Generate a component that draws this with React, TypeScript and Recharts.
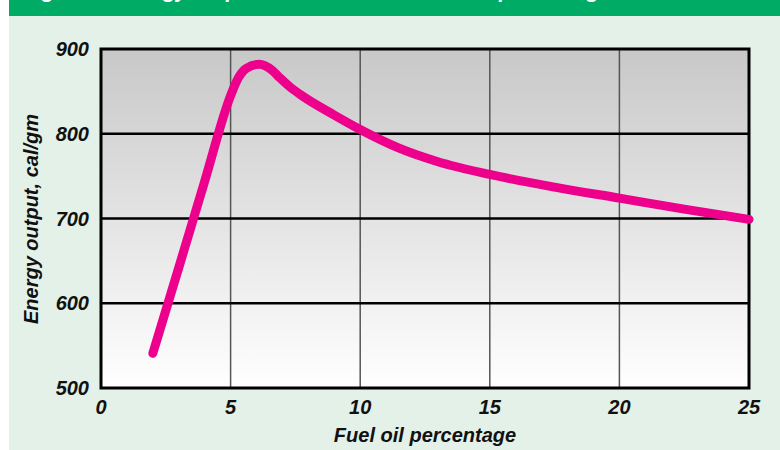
import { CartesianGrid, Line, LineChart, ReferenceArea, ReferenceLine, XAxis, YAxis } from "recharts"

const fuelOil = [2, 3, 4, 5, 5.3, 5.6, 6.1, 6.6, 6.9, 7.3, 7.7, 9, 10, 11.5, 13, 15, 17.5, 20, 22.5, 25]
const energy = [541, 642, 744, 845, 866, 877, 882, 875, 866, 855, 846, 822, 805, 783, 767, 752, 737, 724, 711, 699]

const xTicks = [0, 5, 10, 15, 20, 25]
const yTicks = [500, 600, 700, 800, 900]
const innerLines = [600, 700, 800]

const title = "Figure 2.  Energy output as a function of fuel oil percentage in the mix"
const xTitle = "Fuel oil percentage"
const yTitle = "Energy output,  cal/gm"

const data = fuelOil.map((x, i) => ({ x, y: energy[i] }))

const font = "'Liberation Sans', Arial, sans-serif"
const tickStyle = { fontFamily: font, fontStyle: "italic", fontWeight: "bold", fontSize: 20, fill: "#111" }

export default function App() {
    return (
        <div style={{ position: "absolute", left: 0, top: 0, width: 780, height: 450, background: "#fff", overflow: "hidden" }}>
            <div style={{ position: "absolute", left: 9, top: 0, width: 771, height: 450, background: "#e3f1e8" }} />
            <div style={{ position: "absolute", left: 9, top: 0, width: 771, height: 16, background: "#00ab66", overflow: "hidden" }}>
                <div style={{
                    position: "absolute", left: 14, top: -21, lineHeight: "24px", whiteSpace: "nowrap", color: "#fff",
                    fontFamily: font, fontWeight: "bold", fontStyle: "italic", fontSize: 21
                }}>
                    {title}
                </div>
            </div>
            <div style={{ position: "absolute", left: 0, top: 0 }}>
                <LineChart
                    width={780}
                    height={450}
                    data={data}
                    margin={{ top: 49, right: 31, bottom: 0, left: 0 }}
                >
                    <defs>
                        <linearGradient id="plotBg" x1="0" y1="0" x2="0" y2="1">
                            <stop offset="0%" stopColor="#c8c8c8" />
                            <stop offset="100%" stopColor="#ffffff" />
                        </linearGradient>
                    </defs>
                    <CartesianGrid
                        fill="url(#plotBg)"
                        fillOpacity={1}
                        horizontal={false}
                        stroke="#555"
                        strokeWidth={1.5}
                        verticalValues={[5, 10, 15, 20]}
                    />
                    {innerLines.map((v) => (
                        <ReferenceLine key={v} y={v} stroke="#000" strokeWidth={2.5} />
                    ))}
                    <XAxis
                        type="number"
                        dataKey="x"
                        domain={[0, 25]}
                        ticks={xTicks}
                        height={62}
                        axisLine={false}
                        tickLine={false}
                        tickSize={0}
                        tickMargin={12}
                        tick={tickStyle}
                        interval={0}
                        label={{
                            content: () => (
                                <text x={425} y={442} textAnchor="middle" style={tickStyle}>{xTitle}</text>
                            )
                        }}
                    />
                    <YAxis
                        type="number"
                        domain={[500, 900]}
                        ticks={yTicks}
                        width={101}
                        axisLine={false}
                        tickLine={false}
                        tickSize={0}
                        tickMargin={12}
                        tick={tickStyle}
                        interval={0}
                        label={{
                            content: () => (
                                <text
                                    x={31}
                                    y={219}
                                    transform="rotate(-90 31 219)"
                                    textAnchor="middle"
                                    dominantBaseline="central"
                                    style={tickStyle}
                                >
                                    {yTitle}
                                </text>
                            )
                        }}
                    />
                    <ReferenceArea x1={0} x2={25} y1={500} y2={900} fill="none" stroke="#000" strokeWidth={3} />
                    <Line
                        type="monotone"
                        dataKey="y"
                        stroke="#ec008c"
                        strokeWidth={9}
                        strokeLinecap="round"
                        strokeLinejoin="round"
                        dot={false}
                        activeDot={false}
                        isAnimationActive={false}
                    />
                </LineChart>
            </div>
        </div>
    )
}
